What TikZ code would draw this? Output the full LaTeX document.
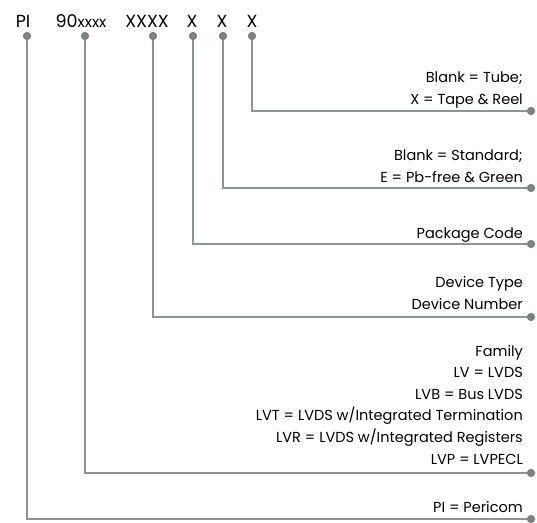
\documentclass[tikz,border=0pt]{standalone}
\usepackage{fontspec}
\setmainfont{Poppins}
\begin{document}
\begin{tikzpicture}[x=1pt,y=-1pt,
  conn/.style={draw=linegray,line width=1.4pt},
  dot/.style={circle,fill=dotgray,inner sep=0pt,minimum size=8pt},
  toplbl/.style={font=\fontsize{17.5}{20}\selectfont,text=black,inner sep=0pt,anchor=base},
  desc/.style={font=\fontsize{14.5}{21.6}\selectfont,text=black,inner sep=0pt,anchor=base east,align=right}]
\definecolor{linegray}{HTML}{8C9494}
\definecolor{dotgray}{HTML}{7A8282}
\useasboundingbox (0,0) rectangle (537,522);
% top labels
\node[toplbl] (tPI) at (23,27) {PI};
\node[toplbl] (t90) at (81,27) {90{\fontsize{15}{17}\selectfont xxxx}};
\node[toplbl] (tXXXX) at (147,27) {XXXX};
\node[toplbl] (tX1) at (192,27) {X};
\node[toplbl] (tX2) at (222,27) {X};
\node[toplbl] (tX3) at (252,27) {X};
% top dots
\node[dot] (dPI) at (27,36) {};
\node[dot] (d90) at (85,36) {};
\node[dot] (dXXXX) at (153,36) {};
\node[dot] (dX1) at (193,36) {};
\node[dot] (dX2) at (223,36) {};
\node[dot] (dX3) at (252,36) {};
% right dots
\node[dot] (rX3) at (531,111) {};
\node[dot] (rX2) at (531,188) {};
\node[dot] (rX1) at (531,244) {};
\node[dot] (rXXXX) at (531,317) {};
\node[dot] (r90) at (531,473) {};
\node[dot] (rPI) at (531,519) {};
% connectors
\draw[conn] (dX3.center) |- (rX3.center);
\draw[conn] (dX2.center) |- (rX2.center);
\draw[conn] (dX1.center) |- (rX1.center);
\draw[conn] (dXXXX.center) |- (rXXXX.center);
\draw[conn] (d90.center) |- (r90.center);
\draw[conn] (dPI.center) |- (rPI.center);
% redraw dots on top
\foreach \n in {dPI,d90,dXXXX,dX1,dX2,dX3,rX3,rX2,rX1,rXXXX,r90,rPI}
  \fill[dotgray] (\n.center) circle (4pt);
% descriptions (base = baseline of last line)
\node[desc] (lX3) at (523,104) {Blank = Tube;\\X = Tape \& Reel};
\node[desc] (lX2) at (523,182) {Blank = Standard;\\E = Pb-free \& Green};
\node[desc] (lX1) at (523,238) {Package Code};
\node[desc] (lXXXX) at (523,309) {Device Type\\Device Number};
\node[desc] (l90) at (523,464) {Family\\LV = LVDS\\LVB = Bus LVDS\\LVT = LVDS w/Integrated Termination\\LVR = LVDS w/Integrated Registers\\LVP = LVPECL};
\node[desc] (lPI) at (523,512) {PI = Pericom};
\end{tikzpicture}
\end{document}
